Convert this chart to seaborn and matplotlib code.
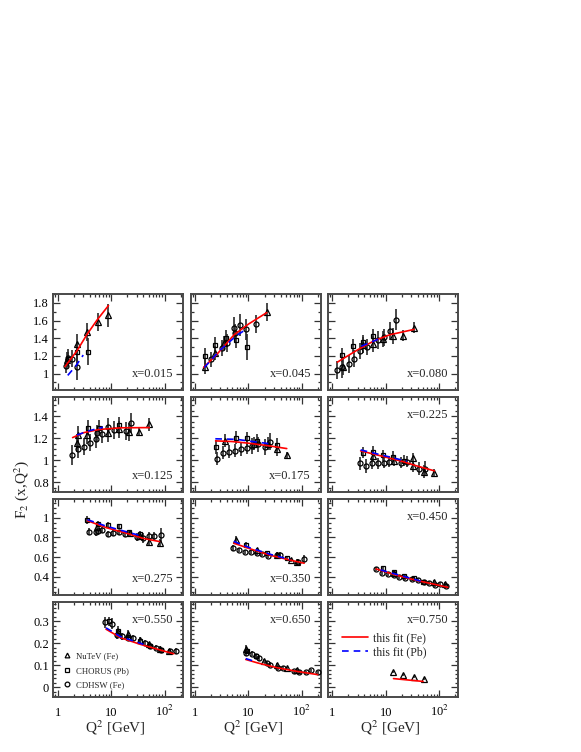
import numpy as np
import matplotlib
matplotlib.use("Agg")
import matplotlib.pyplot as plt
from matplotlib.lines import Line2D
from matplotlib.ticker import FixedLocator, LogLocator, MultipleLocator, FuncFormatter, NullFormatter
import seaborn as sns

# ── Data ──────────────────────────────────────────────────────────────────────
XBINS = ["0.015", "0.045", "0.080", "0.125", "0.175", "0.225",
         "0.275", "0.350", "0.450", "0.550", "0.650", "0.750"]

# each entry: (Q2, F2, err)
NUTEV = {
    "0.015": ([1.47, 2.3, 3.6, 5.6, 8.7], [1.15, 1.33, 1.47, 1.58, 1.66], [0.10, 0.12, 0.10, 0.10, 0.13]),
    "0.045": ([1.51, 2.4, 3.49, 22], [1.08, 1.235, 1.35, 1.70], [0.08, 0.08, 0.08, 0.10]),
    "0.080": ([1.6, 3.7, 5.7, 8.8, 13.5, 21.5, 34], [1.07, 1.32, 1.34, 1.39, 1.43, 1.43, 1.52],
              [0.09, 0.09, 0.09, 0.09, 0.09, 0.06, 0.06]),
    "0.125": ([2.27, 2.37, 3.5, 8.7, 14.1, 21.7, 33.5, 51.5], [1.155, 1.227, 1.227, 1.245, 1.28, 1.257, 1.257, 1.327],
              [0.08, 0.08, 0.08, 0.08, 0.08, 0.08, 0.04, 0.06]),
    "0.175": ([3.64, 12.8, 23.3, 34, 52], [1.176, 1.15, 1.15, 1.10, 1.048], [0.06, 0.06, 0.06, 0.06, 0.03]),
    "0.225": ([5.7, 14, 32, 33, 53, 81.5], [1.039, 0.994, 1.018, 0.943, 0.894, 0.888], [0.05, 0.05, 0.05, 0.05, 0.06, 0.03]),
    "0.275": ([5.4, 22, 35, 50, 80.5], [0.91, 0.844, 0.81, 0.758, 0.742], [0.03, 0.03, 0.03, 0.03, 0.04]),
    "0.350": ([5.77, 14.3, 34, 62, 80.5], [0.776, 0.673, 0.62, 0.571, 0.554], [0.04, 0.02, 0.02, 0.02, 0.03]),
    "0.450": ([14.1, 81.5, 126], [0.44, 0.344, 0.323], [0.02, 0.02, 0.02]),
    "0.550": ([13.3, 20.6, 35, 52, 83, 122], [0.249, 0.241, 0.215, 0.195, 0.176, 0.165], [0.02, 0.02, 0.015, 0.012, 0.012, 0.01]),
    "0.650": ([8.9, 19.6, 34, 52, 80], [0.172, 0.118, 0.10, 0.085, 0.078], [0.02, 0.01, 0.01, 0.008, 0.008]),
    "0.750": ([13.5, 21.5, 34, 53], [0.068, 0.054, 0.045, 0.037], [0.005, 0.005, 0.004, 0.004]),
}

CHORUS = {
    "0.015": ([1.58, 2.33, 3.7], [1.17, 1.24, 1.25], [0.08, 0.12, 0.15]),
    "0.045": ([1.51, 2.36, 3.85, 5.94, 9.3], [1.20, 1.32, 1.40, 1.38, 1.30], [0.09, 0.09, 0.09, 0.09, 0.15]),
    "0.080": ([1.55, 2.4, 3.7, 5.8], [1.21, 1.31, 1.36, 1.43], [0.08, 0.08, 0.08, 0.08]),
    "0.125": ([3.65, 5.85, 14.1], [1.297, 1.297, 1.318], [0.07, 0.07, 0.08]),
    "0.175": ([2.43, 5.85, 9.2, 14.3, 33.5], [1.121, 1.206, 1.20, 1.176, 1.14], [0.06, 0.06, 0.06, 0.06, 0.06]),
    "0.225": ([3.7, 5.8, 9.0, 13.5, 22.4], [1.07, 1.076, 1.045, 1.03, 0.994], [0.05, 0.05, 0.05, 0.05, 0.05]),
    "0.275": ([3.59, 5.77, 8.9, 14.1, 21.7, 34], [0.973, 0.939, 0.929, 0.911, 0.85, 0.833], [0.04, 0.03, 0.03, 0.03, 0.03, 0.03]),
    "0.350": ([8.9, 22, 52], [0.724, 0.64, 0.589], [0.03, 0.02, 0.02]),
    "0.450": ([8.8, 14.1, 22.4, 34, 50.7], [0.487, 0.446, 0.408, 0.385, 0.35], [0.02, 0.02, 0.02, 0.02, 0.02]),
    "0.550": ([9.2, 13.3, 20.6, 35, 54, 86], [0.30, 0.257, 0.23, 0.21, 0.188, 0.17], [0.02, 0.02, 0.015, 0.012, 0.01, 0.01]),
    "0.650": ([9.2, 13.7], [0.165, 0.14], [0.015, 0.01]),
    "0.750": ([], [], []),
}

CDHSW = {
    "0.015": ([1.41, 1.58, 1.83, 2.33], [1.09, 1.18, 1.17, 1.07], [0.08, 0.10, 0.10, 0.14]),
    "0.045": ([1.96, 3.24, 3.98, 5.37, 5.7, 6.95, 8.9, 13.7], [1.16, 1.285, 1.35, 1.52, 1.46, 1.55, 1.50, 1.56],
              [0.09, 0.09, 0.10, 0.12, 0.10, 0.12, 0.12, 0.10]),
    "0.080": ([1.22, 1.55, 2.08, 2.57, 3.33, 4.46, 7.3, 9.3, 12, 15.6],
              [1.04, 1.07, 1.11, 1.17, 1.26, 1.30, 1.38, 1.41, 1.48, 1.61],
              [0.10, 0.12, 0.10, 0.10, 0.09, 0.09, 0.10, 0.10, 0.10, 0.12]),
    "0.125": ([1.87, 2.43, 3.1, 4.03, 5.2, 5.5, 6.7, 8.9, 11.4, 18.8, 23.7],
              [1.048, 1.10, 1.124, 1.16, 1.19, 1.245, 1.236, 1.30, 1.276, 1.266, 1.336],
              [0.09, 0.08, 0.08, 0.08, 0.08, 0.08, 0.08, 0.08, 0.08, 0.08, 0.09]),
    "0.175": ([2.61, 3.39, 4.4, 5.6, 7.4, 9.2, 11.9, 14.9, 20.2, 25.4],
              [1.015, 1.07, 1.079, 1.085, 1.10, 1.115, 1.13, 1.145, 1.121, 1.17],
              [0.06, 0.06, 0.06, 0.06, 0.06, 0.06, 0.07, 0.07, 0.07, 0.08]),
    "0.225": ([3.33, 4.27, 5.5, 7.1, 9.2, 11.7, 19.4, 25, 42.7, 55],
              [0.97, 0.948, 0.97, 0.973, 0.979, 0.988, 0.979, 0.985, 0.924, 0.924],
              [0.06, 0.06, 0.05, 0.05, 0.05, 0.05, 0.05, 0.05, 0.06, 0.07]),
    "0.275": ([3.9, 5.2, 5.77, 6.6, 8.7, 11, 14.2, 18.3, 30.3, 40, 50, 64, 84],
              [0.86, 0.85, 0.867, 0.878, 0.833, 0.844, 0.85, 0.833, 0.80, 0.79, 0.81, 0.81, 0.826],
              [0.04, 0.04, 0.03, 0.03, 0.03, 0.03, 0.03, 0.03, 0.04, 0.05, 0.05, 0.05, 0.07]),
    "0.350": ([5.1, 6.65, 8.7, 11, 14.3, 18.3, 23.5, 34, 39, 85, 110],
              [0.69, 0.673, 0.656, 0.656, 0.64, 0.633, 0.612, 0.619, 0.62, 0.554, 0.578],
              [0.03, 0.02, 0.02, 0.02, 0.02, 0.02, 0.02, 0.03, 0.03, 0.03, 0.04]),
    "0.450": ([6.6, 8.6, 10.9, 14.1, 18, 23, 30.7, 39.8, 52, 65.7, 84, 104, 135],
              [0.48, 0.442, 0.425, 0.42, 0.40, 0.385, 0.374, 0.367, 0.35, 0.34, 0.32, 0.327, 0.31],
              [0.02] * 13),
    "0.550": ([7.7, 10.3, 12.9, 15.9, 20.6, 26, 43.4, 54, 68.8, 86.5, 128, 163],
              [0.295, 0.288, 0.237, 0.231, 0.226, 0.222, 0.203, 0.188, 0.18, 0.169, 0.163, 0.165],
              [0.025, 0.025, 0.02, 0.015, 0.015, 0.015, 0.012, 0.012, 0.01, 0.01, 0.01, 0.012]),
    "0.650": ([8.9, 11.9, 13.7, 15.8, 22, 25.5, 35, 43.4, 71.6, 90, 119, 147, 197],
              [0.157, 0.152, 0.141, 0.131, 0.108, 0.103, 0.088, 0.088, 0.072, 0.068, 0.068, 0.077, 0.068],
              [0.015, 0.012, 0.012, 0.01, 0.01, 0.01, 0.008, 0.008, 0.008, 0.007, 0.007, 0.007, 0.007]),
    "0.750": ([], [], []),
}

FIT_FE = {
    "0.015": ([1.37, 2.3, 3.5, 5.5, 8.9], [1.08, 1.26, 1.44, 1.61, 1.77]),
    "0.045": ([1.45, 2.5, 5.4, 10, 22], [1.07, 1.21, 1.44, 1.56, 1.69]),
    "0.080": ([1.25, 3.0, 6, 12, 34], [1.13, 1.27, 1.37, 1.44, 1.50]),
    "0.125": ([1.9, 3, 6, 15, 51.5], [1.206, 1.25, 1.28, 1.295, 1.297]),
    "0.175": ([2.43, 5, 10, 25, 52], [1.176, 1.17, 1.155, 1.13, 1.106]),
    "0.225": ([3.4, 8, 20, 40, 81.5], [1.085, 1.04, 0.99, 0.945, 0.903]),
    "0.275": ([3.59, 8, 20, 40, 80], [0.97, 0.90, 0.84, 0.79, 0.758]),
    "0.350": ([5.3, 10, 25, 60, 110], [0.742, 0.69, 0.62, 0.57, 0.538]),
    "0.450": ([6.6, 15, 40, 80, 145], [0.48, 0.42, 0.36, 0.325, 0.293]),
    "0.550": ([8, 15, 35, 80, 148], [0.264, 0.225, 0.195, 0.17, 0.152]),
    "0.650": ([8.9, 15, 35, 80, 197], [0.126, 0.11, 0.088, 0.072, 0.057]),
    "0.750": ([14, 25, 50], [0.039, 0.033, 0.026]),
}

FIT_PB = {
    "0.015": ([1.54, 2.2, 3.0], [0.98, 1.09, 1.21]),
    "0.045": ([1.5, 3.0, 6, 9.5], [1.07, 1.27, 1.43, 1.51]),
    "0.080": ([3.5, 8], [1.31, 1.40]),
    "0.125": ([2.3, 4, 7], [1.23, 1.27, 1.30]),
    "0.175": ([2.4, 6, 12, 25], [1.195, 1.19, 1.17, 1.15]),
    "0.225": ([3.4, 8, 25], [1.094, 1.05, 0.99]),
    "0.275": ([3.6, 8, 20, 34], [0.98, 0.915, 0.855, 0.82]),
    "0.350": ([5.3, 10, 25, 60], [0.76, 0.70, 0.63, 0.575]),
    "0.450": ([8, 20, 50], [0.47, 0.41, 0.35]),
    "0.550": ([8, 15, 40], [0.27, 0.23, 0.195]),
    "0.650": ([8.9, 14], [0.13, 0.115]),
    "0.750": ([], []),
}

ROW_YLIM = [(0.82, 1.90), (0.71, 1.58), (0.22, 1.19), (-0.045, 0.39)]
ROW_YMAJOR = [0.2, 0.2, 0.2, 0.1]
ROW_YMINOR = [0.1, 0.05, 0.05, 0.02]
LABEL_TOP = {"0.225", "0.450", "0.550", "0.650", "0.750"}

# ── Style ─────────────────────────────────────────────────────────────────────
sns.set_theme(style="ticks")
plt.rcParams.update({
    "font.family":      ["Liberation Serif", "DejaVu Serif"],
    "mathtext.fontset": "stix",
    "axes.edgecolor":   "#4a4a4a",
    "axes.linewidth":   1.4,
    "xtick.color":      "#333333",
    "ytick.color":      "#333333",
    "xtick.labelcolor": "black",
    "ytick.labelcolor": "black",
})

FRAME = "#4a4a4a"
EBAR = "#2a2a2a"
MARKERS = [("^", NUTEV, 4.1), ("s", CHORUS, 3.5), ("o", CDHSW, 3.6)]

fig, axes = plt.subplots(4, 3, figsize=(5.81, 7.52), dpi=100)
fig.subplots_adjust(left=0.0917, right=0.7883, top=0.609, bottom=0.0731,
                    wspace=0.054, hspace=0.073)

for i, xb in enumerate(XBINS):
    r, c = divmod(i, 3)
    ax = axes[r, c]

    for mk, src, ms in MARKERS:
        q2, f2, err = src[xb]
        if len(q2) == 0:
            continue
        ax.errorbar(q2, f2, yerr=err, fmt=mk, ms=ms, mfc="none", mec="black",
                    mew=0.9, ecolor=EBAR, elinewidth=1.2, capsize=0, zorder=3)

    qf, ff = FIT_FE[xb]
    sns.lineplot(x=qf, y=ff, ax=ax, color="#ff0000", lw=1.2, estimator=None,
                 sort=False, legend=False, zorder=4)
    qp, fp = FIT_PB[xb]
    if len(qp):
        sns.lineplot(x=qp, y=fp, ax=ax, color="#0000ff", lw=1.2, ls=(0, (4, 3)),
                     estimator=None, sort=False, legend=False, zorder=4)

    ax.set_xscale("log")
    ax.set_xlim(0.826, 225)
    ax.set_ylim(*ROW_YLIM[r])
    ax.xaxis.set_major_locator(FixedLocator([1, 10, 100]))
    ax.xaxis.set_minor_locator(LogLocator(base=10, subs=np.arange(2, 10), numticks=20))
    ax.xaxis.set_minor_formatter(NullFormatter())
    ax.yaxis.set_major_locator(MultipleLocator(ROW_YMAJOR[r]))
    ax.yaxis.set_minor_locator(MultipleLocator(ROW_YMINOR[r]))
    ax.yaxis.set_major_formatter(FuncFormatter(lambda v, p: f"{v:g}" if abs(v) > 1e-9 else "0"))
    ax.tick_params(which="both", direction="in", top=True, right=True, width=0.9)
    ax.tick_params(which="major", length=5)
    ax.tick_params(which="minor", length=2.4)
    ax.tick_params(axis="y", labelsize=9, pad=3)
    ax.tick_params(axis="x", labelsize=9, pad=14)
    for sp in ax.spines.values():
        sp.set_color(FRAME)
        sp.set_linewidth(1.4)

    if r == 3:
        ax.set_xticklabels(["1", "10", r"10$^2$"])
        for lbl in ax.get_xticklabels():
            lbl.set_va("baseline")
        ax.set_xlabel(r"Q$^2$ [GeV]", fontsize=11)
        ax.xaxis.set_label_coords(0.48, -0.225)
        ax.xaxis.label.set_va("top")
    else:
        ax.tick_params(axis="x", labelbottom=False)
    if c != 0:
        ax.tick_params(axis="y", labelleft=False)
    ax.set_ylabel("")

    ytxt = 0.81 if xb in LABEL_TOP else 0.165
    ax.text(0.925, ytxt, f"x={xb}", transform=ax.transAxes, ha="right",
            va="center", fontsize=9)

# experiment legend (x=0.550 panel)
exp_handles = [Line2D([], [], ls="none", marker=m, ms=3.4, mfc="none", mec="black", mew=0.9)
               for m in ["^", "s", "o"]]
axes[3, 0].legend(exp_handles, ["NuTeV (Fe)", "CHORUS (Pb)", "CDHSW (Fe)"],
                  loc="lower left", bbox_to_anchor=(0.07, 0.08), frameon=False,
                  fontsize=6.3, handlelength=1.0, handletextpad=0.6,
                  labelspacing=0.75, borderpad=0, borderaxespad=0)

# fit legend (x=0.750 panel)
fit_handles = [Line2D([], [], color="#ff0000", lw=1.2),
               Line2D([], [], color="#0000ff", lw=1.2, ls=(0, (4, 3)))]
axes[3, 2].legend(fit_handles, ["this fit (Fe)", "this fit (Pb)"],
                  loc="upper left", bbox_to_anchor=(0.11, 0.68), frameon=False,
                  fontsize=8.5, handlelength=2.2, handletextpad=0.45,
                  labelspacing=0.2, borderpad=0, borderaxespad=0)

fig.text(22 / 581, 1 - 490 / 752, r"F$_2$ (x,Q$^2$)", rotation=90,
         ha="center", va="center", fontsize=11)

fig.savefig("out.png", dpi=100, facecolor="white")
